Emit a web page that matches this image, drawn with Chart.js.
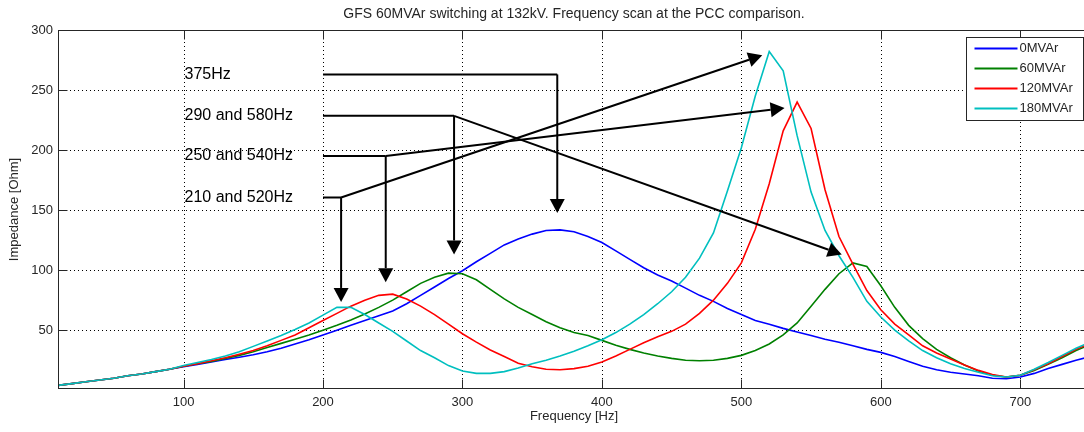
<!DOCTYPE html>
<html>
<head>
<meta charset="utf-8">
<script src="https://cdn.jsdelivr.net/npm/chart.js@4.4.1/dist/chart.umd.min.js"></script>
<style>
  html, body { margin: 0; padding: 0; background: #fff; overflow: hidden; }
</style>
</head>
<body>
<canvas id="scan-chart" width="1092" height="432"></canvas>
<script>
// frequency points [Hz]
const freqs = [10, 20, 30, 40, 50, 60, 70, 80, 90, 100,
  110, 120, 130, 140, 150, 160, 170, 180, 190, 200,
  210, 220, 230, 240, 250, 260, 270, 280, 290, 300,
  310, 320, 330, 340, 350, 360, 370, 380, 390, 400,
  410, 420, 430, 440, 450, 460, 470, 480, 490, 500,
  510, 520, 530, 540, 550, 560, 570, 580, 590, 600,
  610, 620, 630, 640, 650, 660, 670, 680, 690, 700,
  710, 720, 730, 740, 750];

// impedance [Ohm] per case
const z0MVAr = [4, 5.5, 7, 8.5, 10, 12, 13.5, 15.5, 17.5, 19.5,
  21.5, 23.5, 25.5, 27.5, 29.5, 32, 35, 38.5, 42, 46,
  50, 54, 58, 62, 66, 72, 79, 86, 93, 99.5,
  107, 114, 121, 126, 130, 133, 133.5, 132, 128, 123,
  116, 109, 102, 96, 91, 85, 79, 74, 68, 63,
  58, 55, 51.5, 48.5, 45.5, 42.5, 40, 37, 34, 31.5,
  28, 24, 20, 17, 15, 13.5, 12, 10, 9.5, 11,
  14, 18, 21.5, 25, 28];
const z60MVAr = [4, 5.5, 7, 8.5, 10, 12, 13.5, 15.5, 17.5, 20,
  22, 24, 26.5, 29, 32, 35.5, 39, 42.5, 46, 50,
  54, 58.5, 63.5, 69, 75, 82, 89, 94, 97.5, 97,
  92, 84, 76, 69, 63, 57, 52, 48, 45.5, 41.5,
  37.5, 34, 31, 28.5, 26.5, 25, 24.5, 25, 26.5, 29,
  33, 38.5, 46, 56, 70, 84, 97, 106, 103, 87,
  69, 54, 43, 34, 27, 21, 16, 12.5, 11, 12.5,
  16.5, 21.5, 27, 33, 38];
const z120MVAr = [4, 5.5, 7, 8.5, 10, 12, 13.5, 15.5, 17.5, 20,
  22, 24.5, 27, 30, 33, 37, 41.5, 46, 52, 58,
  64, 70, 75, 79, 80, 76, 70, 63, 55, 47,
  40, 33.5, 28, 22.5, 19.5, 17.5, 17, 18, 20, 23.5,
  28.5, 34, 39.5, 44.5, 49, 55, 64, 75, 89, 106,
  134, 172, 216, 240, 218, 167, 128, 105, 83, 67,
  55, 46, 37, 31, 26, 21, 16.5, 13, 11, 12.5,
  17, 22, 28, 34, 39];
const z180MVAr = [4, 5.5, 7, 8.5, 10, 12, 13.5, 15.5, 17.5, 20.5,
  23, 25.5, 28.5, 32, 36.5, 41, 45.5, 50.5, 56, 62.5,
  69, 69, 63, 56, 49, 41, 33, 27, 20.5, 16,
  14, 14, 15.5, 18.5, 22, 25, 28.5, 32.5, 37, 42,
  48, 55, 63, 72, 82, 94, 110, 131, 166, 202,
  245, 282, 266, 212, 165, 133, 112, 94, 74, 61,
  50, 41, 33, 27, 22, 18, 15, 12, 11, 12.5,
  17.5, 23, 29, 35, 40];

const seriesNames = ["0MVAr", "60MVAr", "120MVAr", "180MVAr"];
const seriesColors = ["#0000ff", "#008000", "#ff0000", "#00bfbf"];
const seriesValues = [z0MVAr, z60MVAr, z120MVAr, z180MVAr];

const xTicks = [100, 200, 300, 400, 500, 600, 700];
const yTicks = [50, 100, 150, 200, 250, 300];

// annotations, in Hz / Ohm
const noteLabels = ["375Hz", "290 and 580Hz", "250 and 540Hz", "210 and 520Hz"];
const noteTextHz = 100;
const noteLineStartHz = 200;
const noteLevels = [263, 228.5, 195, 160.5];
const noteCornerHz = [368, 294, 245, 213];
const noteDropOhm = [147.5, 113, 90, 73.5];
const noteTipHz = [null, 572, 531, 515];
const noteTipOhm = [null, 113, 235, 279];

const FONT = '"Liberation Sans", Arial, Helvetica, sans-serif';
const TEXT = "#262626";

function arrow(ctx, x1, y1, x2, y2) {
  const ang = Math.atan2(y2 - y1, x2 - x1);
  const len = 14, half = 7.5;
  const bx = x2 - Math.cos(ang) * len, by = y2 - Math.sin(ang) * len;
  ctx.beginPath();
  ctx.moveTo(x1, y1);
  ctx.lineTo(bx, by);
  ctx.stroke();
  ctx.beginPath();
  ctx.moveTo(x2, y2);
  ctx.lineTo(bx + Math.sin(ang) * half, by - Math.cos(ang) * half);
  ctx.lineTo(bx - Math.sin(ang) * half, by + Math.cos(ang) * half);
  ctx.closePath();
  ctx.fill();
}

const matlabAxes = {
  id: "matlabAxes",
  beforeDatasetsDraw(chart) {
    const { ctx, chartArea: a, scales: { x, y } } = chart;
    ctx.save();
    ctx.strokeStyle = "#000";
    ctx.lineWidth = 1;
    ctx.setLineDash([1, 3]);
    ctx.beginPath();
    xTicks.forEach(v => {
      const p = Math.round(x.getPixelForValue(v)) + 0.5;
      ctx.moveTo(p, a.top);
      ctx.lineTo(p, a.bottom);
    });
    yTicks.forEach(v => {
      const p = Math.round(y.getPixelForValue(v)) + 0.5;
      ctx.moveTo(a.left, p);
      ctx.lineTo(a.right, p);
    });
    ctx.stroke();
    ctx.restore();
  },
  afterDatasetsDraw(chart) {
    const { ctx, chartArea: a, scales: { x, y } } = chart;
    const px = v => x.getPixelForValue(v);
    const py = v => y.getPixelForValue(v);
    ctx.save();

    // frame + inward ticks
    const l = Math.round(a.left) + 0.5, r = Math.round(a.right) - 0.5;
    const t = Math.round(a.top) + 0.5, b = Math.round(a.bottom) - 0.5;
    ctx.strokeStyle = TEXT;
    ctx.lineWidth = 1;
    ctx.strokeRect(l, t, r - l, b - t);
    ctx.beginPath();
    xTicks.forEach(v => {
      const p = Math.round(px(v)) + 0.5;
      ctx.moveTo(p, b); ctx.lineTo(p, b - 9);
      ctx.moveTo(p, t); ctx.lineTo(p, t + 9);
    });
    yTicks.forEach(v => {
      const p = Math.round(py(v)) + 0.5;
      ctx.moveTo(l, p); ctx.lineTo(l + 9, p);
      ctx.moveTo(r, p); ctx.lineTo(r - 9, p);
    });
    ctx.stroke();

    // annotations
    ctx.strokeStyle = "#000";
    ctx.fillStyle = "#000";
    ctx.lineWidth = 2;
    ctx.font = "16px " + FONT;
    ctx.textBaseline = "middle";
    ctx.textAlign = "left";
    noteLabels.forEach((label, i) => {
      const ty = py(noteLevels[i]);
      ctx.fillText(label, px(noteTextHz) + 1, ty);
      const cx = px(noteCornerHz[i]);
      ctx.beginPath();
      ctx.moveTo(px(noteLineStartHz), ty);
      ctx.lineTo(cx, ty);
      ctx.stroke();
      arrow(ctx, cx, ty, cx, py(noteDropOhm[i]));
      if (noteTipHz[i] !== null) {
        arrow(ctx, cx, ty, px(noteTipHz[i]), py(noteTipOhm[i]));
      }
    });

    // legend box
    const bw = 117, bh = 83;
    const bx = Math.round(a.right) - 7 - bw + 0.5, by = Math.round(a.top) + 7 + 0.5;
    ctx.fillStyle = "#fff";
    ctx.fillRect(bx, by, bw, bh);
    ctx.strokeStyle = TEXT;
    ctx.lineWidth = 1;
    ctx.strokeRect(bx, by, bw, bh);
    ctx.font = "13px " + FONT;
    seriesNames.forEach((name, i) => {
      const ry = by + 11 + i * 20;
      ctx.strokeStyle = seriesColors[i];
      ctx.lineWidth = 2;
      ctx.beginPath();
      ctx.moveTo(bx + 8, ry);
      ctx.lineTo(bx + 51, ry);
      ctx.stroke();
      ctx.fillStyle = TEXT;
      ctx.fillText(name, bx + 53, ry);
    });
    ctx.restore();
  }
};

const ctx = document.getElementById("scan-chart").getContext("2d");

new Chart(ctx, {
  type: "line",
  data: {
    datasets: seriesValues.map((vals, i) => ({
      label: seriesNames[i],
      data: freqs.map((f, k) => ({ x: f, y: vals[k] })),
      borderColor: seriesColors[i],
      borderWidth: 1.6,
      pointRadius: 0,
      tension: 0,
      fill: false,
      order: 3 - i,
    })),
  },
  options: {
    responsive: false,
    devicePixelRatio: 1,
    animation: false,
    layout: { padding: { right: 2 } },
    plugins: {
      legend: { display: false },
      tooltip: { enabled: false },
      title: {
        display: true,
        fullSize: false,
        text: "GFS 60MVAr switching at 132kV. Frequency scan at the PCC comparison.",
        color: TEXT,
        font: { family: FONT, size: 14, weight: "normal" },
        padding: { top: 6, bottom: 7.2 },
      },
    },
    scales: {
      x: {
        type: "linear",
        min: 10,
        max: 750,
        afterBuildTicks: s => { s.ticks = xTicks.map(v => ({ value: v })); },
        afterFit: s => { s.height = 43; },
        grid: { display: false, drawTicks: false },
        border: { display: false },
        ticks: { color: TEXT, font: { family: FONT, size: 13 }, padding: 6, maxRotation: 0, autoSkip: false },
        title: {
          display: true,
          text: "Frequency [Hz]",
          color: TEXT,
          font: { family: FONT, size: 13 },
          padding: { top: 0, bottom: 8 },
        },
      },
      y: {
        min: 1,
        max: 300,
        afterBuildTicks: s => { s.ticks = yTicks.map(v => ({ value: v })); },
        afterFit: s => { s.width = 58; },
        grid: { display: false, drawTicks: false },
        border: { display: false },
        ticks: { color: TEXT, font: { family: FONT, size: 13 }, padding: 5 },
        title: {
          display: true,
          text: "Impedance [Ohm]",
          color: TEXT,
          font: { family: FONT, size: 13 },
          padding: { top: 7, bottom: 0 },
        },
      },
    },
  },
  plugins: [matlabAxes],
});
</script>
</body>
</html>
